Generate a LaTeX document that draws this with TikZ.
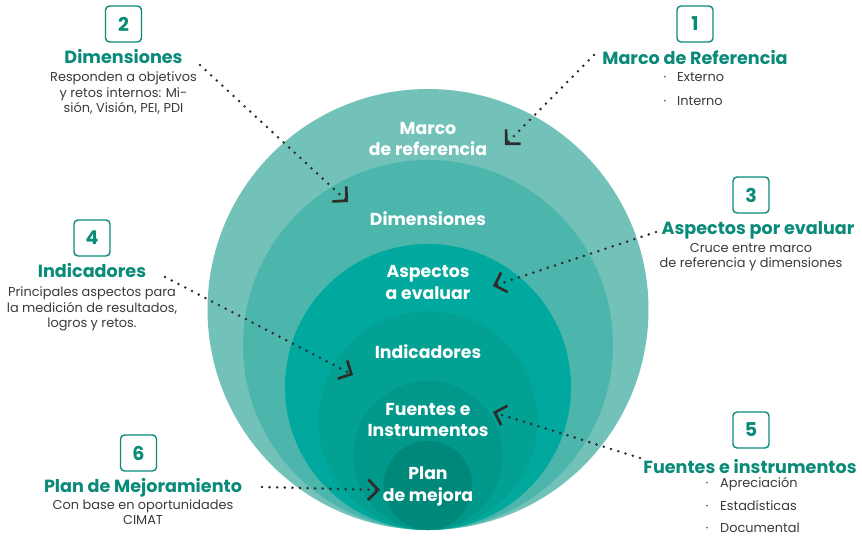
\documentclass[tikz,border=0pt]{standalone}
\usepackage{fontspec}
\setmainfont{Poppins}
\usetikzlibrary{arrows.meta}
\definecolor{cA}{HTML}{72C2BA}
\definecolor{cB}{HTML}{4CB6AC}
\definecolor{cC}{HTML}{00A89D}
\definecolor{cD}{HTML}{03A094}
\definecolor{cE}{HTML}{00988A}
\definecolor{cF}{HTML}{00887A}
\definecolor{teal}{HTML}{0A8A79}
\definecolor{body}{HTML}{3A3A3A}
\definecolor{dots}{HTML}{2E2B2B}
\tikzset{
  numbox/.style={draw=teal, line width=1.4pt, rounded corners=4pt, minimum width=36pt, minimum height=36pt, inner sep=0pt, text=teal, font=\fontsize{19}{19}\selectfont\bfseries},
  ttl/.style={anchor=base, inner sep=0pt, text=teal, font=\fontsize{17.6}{17.6}\selectfont\bfseries},
  txt/.style={anchor=base, inner sep=0pt, text=body, font=\fontsize{12.9}{12.9}\selectfont},
  lft/.style={txt, anchor=base west},
  inl/.style={anchor=base, inner sep=0pt, text=white, font=\fontsize{17.3}{17.3}\selectfont\bfseries},
  dotarrow/.style={dots, line width=2.8pt, line cap=round, dash pattern=on 0pt off 7.6pt,
    -{Straight Barb[length=10pt, width=20.5pt, line width=2.7pt, line cap=butt]}},
}
\begin{document}
\begin{tikzpicture}[x=1pt, y=-1pt]
\useasboundingbox (0,0) rectangle (862,536);
% concentric circles tangent at bottom
\fill[cA] (428,309.5) circle[radius=220.5pt];
\fill[cB] (428,345) circle[radius=185pt];
\fill[cC] (428,387) circle[radius=143pt];
\fill[cD] (428,420.5) circle[radius=109.5pt];
\fill[cE] (428,455.5) circle[radius=74.5pt];
\fill[cF] (428,485.5) circle[radius=44.5pt];
% circle labels
\node[inl] (l1a) at (428,134) {Marco};
\node[inl] (l1b) at (428,155) {de referencia};
\node[inl] (l2) at (428,225) {Dimensiones};
\node[inl] (l3a) at (428,277) {Aspectos};
\node[inl] (l3b) at (428,299) {a evaluar};
\node[inl] (l4) at (428,358) {Indicadores};
\node[inl] (l5a) at (428,415) {Fuentes e};
\node[inl] (l5b) at (428,436) {Instrumentos};
\node[inl] (l6a) at (428,479) {Plan};
\node[inl] (l6b) at (428,501) {de mejora};
% 1
\node[numbox] (b1) at (695,24) {1};
\node[ttl] (t1) at (695,64) {Marco de Referencia};
\node[txt] (d1a) at (665,81) {·};
\node[lft] (e1a) at (677,81) {Externo};
\node[txt] (d1b) at (665,105) {·};
\node[lft] (e1b) at (677,105) {Interno};
% 2
\node[numbox] (b2) at (123.5,24) {2};
\node[ttl] (t2) at (123.5,63) {Dimensiones};
\node[txt] (e2a) at (123.5,81) {Responden a objetivos};
\node[txt] (e2b) at (123.5,97) {y retos internos: Mi-};
\node[txt] (e2c) at (123.5,112) {sión, Visión, PEI, PDI};
% 3
\node[numbox] (b3) at (751,195) {3};
\node[ttl] (t3) at (758,234) {Aspectos por evaluar};
\node[txt] (e3a) at (751,252) {Cruce entre marco};
\node[txt] (e3b) at (751,267) {de referencia y dimensiones};
% 4
\node[numbox] (b4) at (92,238) {4};
\node[ttl] (t4) at (92,277) {Indicadores};
\node[txt] (e4a) at (92,296) {Principales aspectos para};
\node[txt] (e4b) at (92,312) {la medición de resultados,};
\node[txt] (e4c) at (92,327) {logros y retos.};
% 5
\node[numbox] (b5) at (751,430) {5};
\node[ttl] (t5) at (750,473) {Fuentes e instrumentos};
\node[txt] (d5a) at (707,487) {·};
\node[lft] (e5a) at (720,487) {Apreciación};
\node[txt] (d5b) at (707,510) {·};
\node[lft] (e5b) at (720,510) {Estadísticas};
\node[txt] (d5c) at (707,532) {·};
\node[lft] (e5c) at (720,532) {Documental};
% 6
\node[numbox] (b6) at (138.5,453) {6};
\node[ttl] (t6) at (143,492) {Plan de Mejoramiento};
\node[txt] (e6a) at (143,509) {Con base en oportunidades};
\node[txt] (e6b) at (143,524) {CIMAT};
% arrow endpoints
\coordinate (s1) at (594,55);
\coordinate (p1) at (505,145);
\coordinate (s2) at (200,65);
\coordinate (p2) at (348,202);
\coordinate (s3) at (656,232);
\coordinate (p3) at (493,286);
\coordinate (s4) at (165,277);
\coordinate (p4) at (353,375);
\coordinate (s5) at (640,458);
\coordinate (p5) at (493,412);
\coordinate (s6) at (262,487);
\coordinate (p6) at (380,490);
\draw[dotarrow] (s1) -- (p1);
\draw[dotarrow] (s2) -- (p2);
\draw[dotarrow] (s3) -- (p3);
\draw[dotarrow] (s4) -- (p4);
\draw[dotarrow] (s5) -- (p5);
\draw[dotarrow] (s6) -- (p6);
\end{tikzpicture}
\end{document}
